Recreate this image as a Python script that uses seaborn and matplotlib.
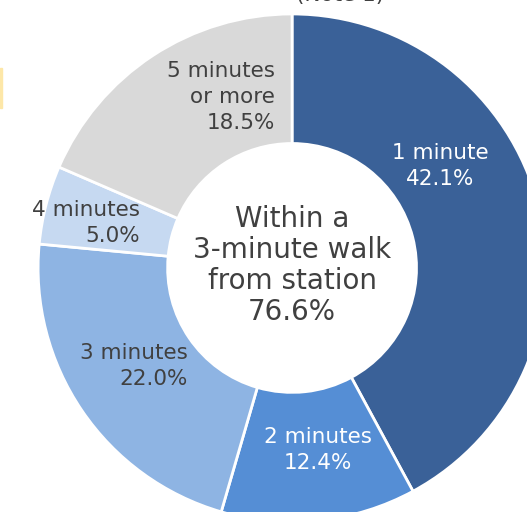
import matplotlib
matplotlib.use("Agg")
import matplotlib.pyplot as plt
import matplotlib.patches as mpatches
import seaborn as sns

# datos del gráfico
categorias = ["1 minute", "2 minutes", "3 minutes", "4 minutes", "5 minutes\nor more"]
porcentajes = [42.1, 12.4, 22.0, 5.0, 18.5]
colores = ["#3a6198", "#558ed5", "#8eb4e3", "#c6d9f1", "#d9d9d9"]
texto_centro = "Within a\n3-minute walk\nfrom station\n76.6%"

sns.set_theme(style="white")
plt.rcParams["font.family"] = ["DejaVu Sans"]

fig = plt.figure(figsize=(5.27, 5.12), dpi=100)
ax = fig.add_axes([0, 0, 1, 1])

wedges, _ = ax.pie(
    porcentajes,
    colors=colores,
    startangle=90,
    counterclock=False,
    radius=1.0,
    wedgeprops=dict(width=0.51, edgecolor="white", linewidth=2),
)

# etiquetas de cada segmento
etiquetas = [f"{c}\n{p:.1f}%" for c, p in zip(categorias, porcentajes)]
posiciones = [(0.583, 0.40), (0.102, -0.717), (-0.409, -0.386), (-0.598, 0.177), (-0.067, 0.673)]
color_texto = ["white", "white", "#404040", "#404040", "#404040"]
alineacion = ["center", "center", "right", "right", "right"]
for txt, (x, y), c, ha in zip(etiquetas, posiciones, color_texto, alineacion):
    ax.text(x, y, txt, ha=ha, va="center", multialignment=ha, color=c,
            fontsize=15.5, linespacing=1.38)

ax.text(0.0, 0.01, texto_centro, ha="center", va="center", color="#404040",
        fontsize=20, linespacing=1.14)
ax.text(0.19, 1.035, "(Note 1)", ha="center", va="bottom", color="#404040", fontsize=15.5)

# pequeño borde amarillo a la izquierda
fig.patches.append(mpatches.Rectangle((0, 0.79), 0.004, 0.078, transform=fig.transFigure,
                                      color="#fde7a8", zorder=5))

ax.set_xlim(-1.15, 0.925)
ax.set_ylim(-0.961, 1.055)
ax.set_aspect("equal")
ax.axis("off")

plt.savefig("out.png", dpi=100)
